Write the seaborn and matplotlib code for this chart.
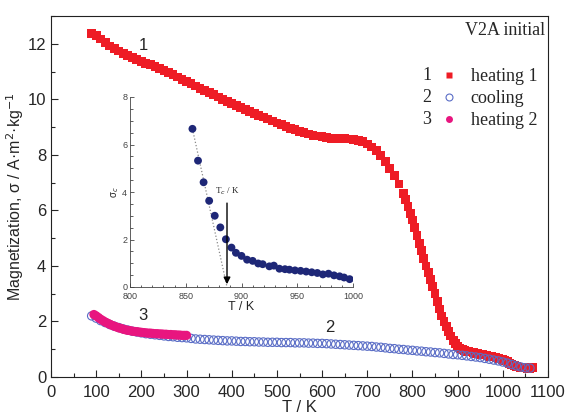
import numpy as np
import pandas as pd
import matplotlib
matplotlib.use("Agg")
import matplotlib.pyplot as plt
from matplotlib.lines import Line2D
from matplotlib.ticker import MultipleLocator
import seaborn as sns

# heating 1 (red squares)
t_heat1 = [90, 100, 110, 120, 130, 140, 150, 160, 170, 180, 190, 200, 210, 220, 230, 240,
           250, 260, 270, 280, 290, 300, 310, 320, 330, 340, 350, 360, 370, 380, 390, 400,
           410, 420, 430, 440, 450, 460, 470, 480, 490, 500, 510, 520, 530, 540, 550, 560,
           570, 580, 590, 600, 610, 620, 630, 640, 650, 660, 670, 680, 690, 700, 710, 720,
           730, 740, 750, 760, 770, 780, 785, 790, 795, 800, 805, 810, 815, 820, 825, 830,
           835, 840, 845, 850, 855, 860, 865, 870, 875, 880, 885, 890, 895, 900, 905, 910,
           915, 920, 925, 930, 935, 940, 945, 950, 955, 960, 965, 970, 975, 980, 985, 990,
           995, 1000, 1005, 1010, 1015, 1020, 1025, 1030, 1035, 1040, 1045, 1050, 1055,
           1060, 1065]
s_heat1 = [12.37, 12.30, 12.17, 12.04, 11.92, 11.82, 11.74, 11.66, 11.58, 11.50, 11.43,
           11.36, 11.30, 11.24, 11.17, 11.10, 11.03, 10.96, 10.88, 10.80, 10.72, 10.64,
           10.56, 10.48, 10.40, 10.32, 10.24, 10.16, 10.08, 10.00, 9.92, 9.85, 9.78, 9.71,
           9.64, 9.57, 9.50, 9.43, 9.36, 9.29, 9.22, 9.15, 9.08, 9.01, 8.95, 8.90, 8.85,
           8.80, 8.75, 8.71, 8.68, 8.65, 8.62, 8.60, 8.59, 8.58, 8.58, 8.57, 8.56, 8.53,
           8.47, 8.39, 8.28, 8.15, 7.98, 7.77, 7.52, 7.25, 6.95, 6.60, 6.38, 6.14, 5.90,
           5.65, 5.38, 5.10, 4.80, 4.55, 4.28, 4.00, 3.75, 3.50, 3.25, 3.00, 2.72, 2.45,
           2.20, 2.00, 1.82, 1.65, 1.48, 1.32, 1.20, 1.10, 1.03, 0.99, 0.96, 0.93, 0.91,
           0.90, 0.88, 0.86, 0.84, 0.82, 0.80, 0.79, 0.77, 0.75, 0.73, 0.72, 0.70, 0.68,
           0.65, 0.62, 0.59, 0.55, 0.50, 0.45, 0.41, 0.38, 0.36, 0.35, 0.34, 0.33, 0.32,
           0.32, 0.33]

# cooling (open blue circles)
t_cool = [90, 100, 110, 120, 130, 140, 150, 160, 170, 180, 190, 200, 210, 220, 230, 240,
          250, 260, 270, 280, 290, 300, 310, 320, 330, 340, 350, 360, 370, 380, 390, 400,
          410, 420, 430, 440, 450, 460, 470, 480, 490, 500, 510, 520, 530, 540, 550, 560,
          570, 580, 590, 600, 610, 620, 630, 640, 650, 660, 670, 680, 690, 700, 710, 720,
          730, 740, 750, 760, 770, 780, 790, 800, 810, 820, 830, 840, 850, 860, 870, 880,
          890, 900, 910, 920, 930, 940, 950, 960, 970, 980, 990, 1000, 1010, 1020, 1030,
          1040, 1050, 1060]
s_cool = [2.20, 2.12, 2.03, 1.96, 1.89, 1.83, 1.78, 1.73, 1.69, 1.65, 1.62, 1.59, 1.56,
          1.54, 1.52, 1.50, 1.48, 1.46, 1.45, 1.43, 1.42, 1.41, 1.39, 1.37, 1.36, 1.35,
          1.34, 1.33, 1.32, 1.31, 1.30, 1.30, 1.29, 1.28, 1.28, 1.27, 1.27, 1.26, 1.26,
          1.25, 1.25, 1.25, 1.24, 1.24, 1.24, 1.23, 1.23, 1.23, 1.22, 1.22, 1.21, 1.21,
          1.20, 1.19, 1.18, 1.17, 1.16, 1.15, 1.14, 1.13, 1.12, 1.11, 1.10, 1.08, 1.07,
          1.05, 1.03, 1.02, 1.00, 0.99, 0.97, 0.96, 0.94, 0.93, 0.91, 0.90, 0.88, 0.87,
          0.85, 0.83, 0.81, 0.80, 0.78, 0.76, 0.74, 0.72, 0.70, 0.67, 0.64, 0.61, 0.58,
          0.54, 0.50, 0.45, 0.40, 0.36, 0.33, 0.32]

# heating 2 (pink dots)
t_heat2 = [95, 100, 105, 110, 115, 120, 125, 130, 135, 140, 145, 150, 155, 160, 165, 170,
           175, 180, 185, 190, 195, 200, 205, 210, 215, 220, 225, 230, 235, 240, 245, 250,
           255, 260, 265, 270, 275, 280, 285, 290, 295, 300]
s_heat2 = [2.25, 2.20, 2.14, 2.08, 2.03, 1.98, 1.94, 1.90, 1.86, 1.83, 1.80, 1.77, 1.75,
           1.72, 1.70, 1.68, 1.67, 1.65, 1.64, 1.63, 1.62, 1.61, 1.60, 1.59, 1.58, 1.58,
           1.57, 1.56, 1.56, 1.55, 1.55, 1.54, 1.54, 1.53, 1.53, 1.52, 1.52, 1.51, 1.51,
           1.50, 1.50, 1.50]

# inset: sigma near Tc
t_inset = [856, 861, 866, 871, 876, 881, 886, 891, 895, 900, 905, 910, 915, 919, 925, 929,
           934, 939, 943, 948, 953, 958, 963, 968, 973, 978, 983, 988, 992, 997]
s_inset = [6.66, 5.32, 4.41, 3.63, 3.00, 2.51, 2.01, 1.66, 1.44, 1.31, 1.15, 1.10, 0.99,
           0.96, 0.87, 0.90, 0.77, 0.75, 0.73, 0.70, 0.68, 0.65, 0.62, 0.59, 0.53, 0.56,
           0.49, 0.45, 0.40, 0.33]
t_curie = 887

RED = "#ee1c25"
BLUE = "#5a6dc6"
PINK = "#e8157f"
NAVY = "#1e2777"

sns.set_style("ticks")
plt.rcParams["font.family"] = ["Liberation Sans", "DejaVu Sans"]
plt.rcParams["xtick.direction"] = "in"
plt.rcParams["ytick.direction"] = "in"

df1 = pd.DataFrame({"T": t_heat1, "s": s_heat1})
df2 = pd.DataFrame({"T": t_cool, "s": s_cool})
df3 = pd.DataFrame({"T": t_heat2, "s": s_heat2})
dfi = pd.DataFrame({"T": t_inset, "s": s_inset})

fig = plt.figure(figsize=(5.7, 4.2), dpi=100)
ax = fig.add_axes([51 / 570, 43 / 420, 497 / 570, 361 / 420])

sns.scatterplot(data=df1, x="T", y="s", ax=ax, marker="s", s=40, color=RED,
                edgecolor="none", linewidth=0, zorder=2)
sns.scatterplot(data=df2, x="T", y="s", ax=ax, marker="o", s=36, facecolors="none",
                edgecolor=BLUE, linewidth=0.8, zorder=3)
sns.scatterplot(data=df3, x="T", y="s", ax=ax, marker="o", s=44, color=PINK,
                edgecolor="none", linewidth=0, zorder=4)

ax.set_xlim(0, 1100)
ax.set_ylim(0, 13)
ax.xaxis.set_major_locator(MultipleLocator(100))
ax.xaxis.set_minor_locator(MultipleLocator(50))
ax.yaxis.set_major_locator(MultipleLocator(2))
ax.yaxis.set_minor_locator(MultipleLocator(1))
ax.tick_params(which="major", length=5, width=0.8, labelsize=12, top=False, right=False)
ax.tick_params(axis="x", which="major", pad=6)
ax.tick_params(which="minor", length=3, width=0.8, top=False, right=False)
for sp in ax.spines.values():
    sp.set_linewidth(0.8)
    sp.set_color("#222222")
ax.set_xlabel("T / K", fontsize=12, labelpad=0)
ax.set_ylabel("Magnetization, σ / A·m$^2$·kg$^{-1}$", fontsize=11.5, labelpad=1)

ax.text(204, 11.95, "1", fontsize=12, ha="center", va="center")
ax.text(617, 1.8, "2", fontsize=12, ha="center", va="center")
ax.text(204, 2.2, "3", fontsize=12, ha="center", va="center")

serif = ["Liberation Serif", "DejaVu Serif"]
ax.text(0.995, 0.96, "V2A initial", transform=ax.transAxes, ha="right", va="center",
        fontsize=13, family=serif)
handles = [
    Line2D([], [], ls="none", marker="s", ms=4.5, color=RED, mec="none"),
    Line2D([], [], ls="none", marker="o", ms=5, mfc="none", mec=BLUE, mew=0.8),
    Line2D([], [], ls="none", marker="o", ms=5, color=PINK, mec="none"),
]
leg = ax.legend(handles, ["heating 1", "cooling", "heating 2"], loc="upper right",
                bbox_to_anchor=(1.0, 0.885), frameon=False,
                prop={"family": serif, "size": 13},
                handlelength=1.0, handletextpad=0.7, labelspacing=0.28, borderaxespad=0.2)
for num, yy in zip(["1", "2", "3"], [76, 98, 120]):
    fig.text(427 / 570, 1 - yy / 420, num, ha="center", va="center", fontsize=13,
             family=serif)

# inset
axi = fig.add_axes([130 / 570, 133 / 420, 223 / 570, 190 / 420])
axi.patch.set_alpha(0)
axi.plot([t_inset[0], t_curie], [s_inset[0], 0], ls=":", color="#888888", lw=0.9, zorder=1)
sns.scatterplot(data=dfi, x="T", y="s", ax=axi, marker="o", s=32, color=NAVY,
                edgecolor="none", linewidth=0, zorder=3)
axi.annotate("", xy=(t_curie, 0), xytext=(t_curie, 3.65),
             arrowprops=dict(arrowstyle="-|>", color="black", lw=1.0,
                             mutation_scale=10), zorder=4)
axi.text(t_curie, 4.05, "T$_c$ / K", ha="center", va="center", fontsize=6.5,
         family=serif)
axi.set_xlim(800, 1000)
axi.set_ylim(0, 8)
axi.xaxis.set_major_locator(MultipleLocator(50))
axi.xaxis.set_minor_locator(MultipleLocator(10))
axi.yaxis.set_major_locator(MultipleLocator(2))
axi.yaxis.set_minor_locator(MultipleLocator(0.5))
axi.tick_params(which="major", length=3, width=0.6, labelsize=6.5, pad=2,
                colors="#444444")
axi.tick_params(axis="x", which="major", pad=3.5)
axi.tick_params(which="minor", length=1.8, width=0.6, colors="#444444")
for side in ["top", "right"]:
    axi.spines[side].set_visible(False)
for side in ["left", "bottom"]:
    axi.spines[side].set_linewidth(0.6)
    axi.spines[side].set_color("#444444")
axi.set_xlabel("T / K", fontsize=9, labelpad=0)
axi.set_ylabel("σ$_c$", fontsize=7, labelpad=1)

fig.savefig("out.png", dpi=100)
